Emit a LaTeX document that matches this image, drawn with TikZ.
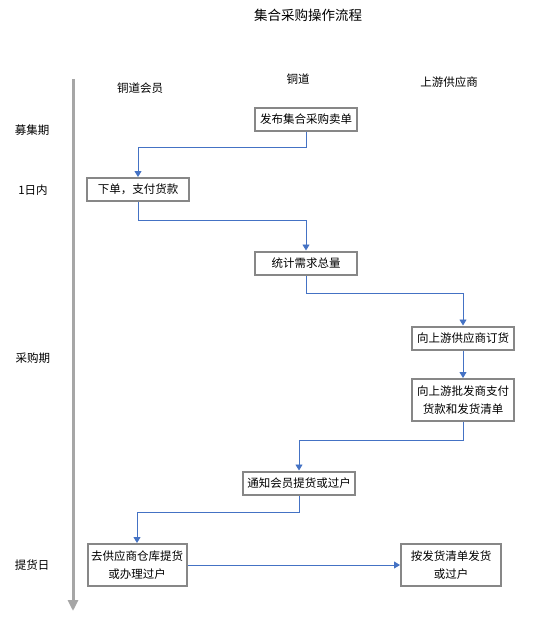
\documentclass[tikz,border=0pt]{standalone}
\usepackage{fontspec}
\usepackage{xcolor}
\newfontfamily\cjk{Noto Sans CJK SC}
\usetikzlibrary{arrows.meta}
\definecolor{flowblue}{HTML}{4472C4}
\definecolor{boxgray}{HTML}{878787}
\definecolor{axisgray}{HTML}{A6A6A6}

\begin{document}
\begin{tikzpicture}[
    x=1pt, y=-1pt,
    stage/.style={
        draw=boxgray, line width=2pt, fill=white,
        rectangle, inner sep=2pt,
        minimum width=102pt, minimum height=23pt,
        align=center,
        font=\cjk\fontsize{11.5}{17.5}\selectfont
    },
    flow/.style={
        -{Triangle[length=6pt, width=7pt]}, line width=0.9pt, draw=flowblue
    },
    timeaxis/.style={
        -{Triangle[length=11pt, width=10pt]}, line width=3pt, draw=axisgray
    },
    lbl/.style={
        font=\cjk\fontsize{11.5}{14}\selectfont, inner sep=0pt
    }
]
\useasboundingbox (0,0) rectangle (536,623);

% title
\node[lbl, font=\cjk\fontsize{13.5}{16}\selectfont] (title) at (308,15) {集合采购操作流程};

% time axis
\coordinate (tstart) at (73,79);
\coordinate (tend) at (73,611);
\draw[timeaxis] (tstart) -- (tend);

% columns
\node[lbl] (colmember) at (140,88) {铜道会员};
\node[lbl] (coltongdao) at (298,79) {铜道};
\node[lbl] (colsupplier) at (449,82) {上游供应商};

% periods
\node[lbl] (recruit) at (32,130) {募集期};
\node[lbl] (oneday) at (33,190) {1日内};
\node[lbl] (purchase) at (33,358) {采购期};
\node[lbl] (pickup) at (32,565) {提货日};

% steps
\node[stage] (publish) at (306,119.5) {发布集合采购卖单};
\node[stage] (order) at (138,189.5) {下单，支付货款};
\node[stage] (total) at (306,263) {统计需求总量};
\node[stage] (upstream) at (463,338) {向上游供应商订货};
\node[stage, minimum height=42pt] (pay) at (463,400) {向上游批发商支付\\货款和发货清单};
\node[stage, minimum width=112pt] (notify) at (299,483) {通知会员提货或过户};
\node[stage, minimum width=99pt, minimum height=42pt] (collect) at (137,565) {去供应商仓库提货\\或办理过户};
\node[stage, minimum width=100pt, minimum height=42pt] (ship) at (451,565) {按发货清单发货\\或过户};

% connectors
\draw[flow] (publish.south) -- ++(0,15) -| (order.north);
\draw[flow] (order.south) -- ++(0,18) -| (total.north);
\draw[flow] (total.south) -- ++(0,18) -| (upstream.north);
\draw[flow] (upstream.south) -- (pay.north);
\draw[flow] (pay.south) -- ++(0,18) -| (notify.north);
\draw[flow] (notify.south) -- ++(0,17) -| (collect.north);
\draw[flow] (collect.east) -- (ship.west);

\end{tikzpicture}
\end{document}
